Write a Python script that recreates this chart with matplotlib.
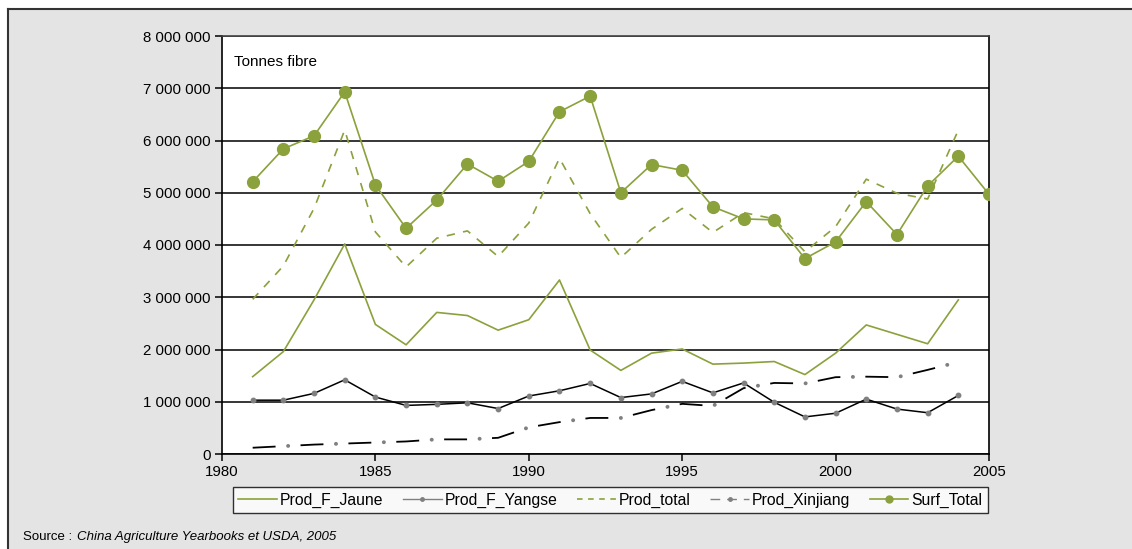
import matplotlib
matplotlib.use("Agg")
import matplotlib.pyplot as plt
from matplotlib.lines import Line2D
from matplotlib.patches import Rectangle
from matplotlib.ticker import FuncFormatter, MultipleLocator

plt.rcParams["font.family"] = ["Liberation Sans", "DejaVu Sans"]
plt.rcParams["lines.scale_dashes"] = False

years = list(range(1981, 2006))
years_prod = list(range(1981, 2005))

prod_f_jaune = [1.48, 1.96, 2.95, 4.02, 2.48, 2.09, 2.71, 2.65, 2.37, 2.57, 3.33, 1.99,
                1.60, 1.93, 2.01, 1.72, 1.74, 1.77, 1.52, 1.93, 2.47, 2.29, 2.11, 2.95]
prod_f_yangse = [1.03, 1.03, 1.16, 1.42, 1.09, 0.93, 0.95, 0.98, 0.87, 1.11, 1.21, 1.35,
                 1.08, 1.15, 1.39, 1.17, 1.36, 0.99, 0.71, 0.78, 1.05, 0.86, 0.79, 1.12]
prod_total = [2.96, 3.60, 4.70, 6.20, 4.25, 3.58, 4.13, 4.27, 3.78, 4.42, 5.66, 4.60,
              3.76, 4.30, 4.70, 4.24, 4.62, 4.50, 3.87, 4.35, 5.26, 4.99, 4.88, 6.20]
prod_xinjiang = [0.12, 0.15, 0.18, 0.20, 0.22, 0.24, 0.28, 0.28, 0.31, 0.51, 0.61, 0.69,
                 0.69, 0.84, 0.96, 0.92, 1.26, 1.36, 1.35, 1.47, 1.48, 1.47, 1.61, 1.76]
surf_total = [5.21, 5.84, 6.09, 6.93, 5.15, 4.32, 4.86, 5.55, 5.22, 5.60, 6.55, 6.85,
              5.00, 5.54, 5.43, 4.73, 4.50, 4.48, 3.74, 4.06, 4.83, 4.20, 5.13, 5.70, 4.97]

labels = ["Prod_F_Jaune", "Prod_F_Yangse", "Prod_total", "Prod_Xinjiang", "Surf_Total"]

green = "#8aa13c"
grey = "#808080"
bg = "#e4e4e4"

M = 1e6
fig = plt.figure(figsize=(11.32, 5.49), dpi=100)
# grey frame, with only the left and top edges drawn
x0, y0 = 8 / 1132, 1 - 9 / 549
fig.patches.append(Rectangle((x0, 0), 1 - x0, y0, transform=fig.transFigure,
                             facecolor=bg, edgecolor="none", zorder=-10))
fig.add_artist(Line2D([x0, x0], [0, y0], transform=fig.transFigure,
                      color="#333333", lw=1.5))
fig.add_artist(Line2D([x0, 1], [y0, y0], transform=fig.transFigure,
                      color="#333333", lw=1.5))

ax = fig.add_axes([222 / 1132, 1 - 454 / 549, (989 - 222) / 1132, (454 - 36) / 549])
ax.set_facecolor("white")

ax.plot(years_prod, [v * M for v in prod_f_jaune], color=green, lw=1.2, zorder=3)
ax.plot(years_prod, [v * M for v in prod_f_yangse], color="black", lw=1.1, zorder=3,
        marker="o", markersize=3.2, markerfacecolor=grey, markeredgecolor=grey)
ax.plot(years_prod, [v * M for v in prod_total], color=green, lw=1.2, zorder=3,
        linestyle=(0, (6, 6)))
xj = [v * M for v in prod_xinjiang]
ax.plot(years_prod, xj, color="black", lw=1.3, zorder=3, linestyle=(0, (16.5, 18)))
ax.plot(years_prod, xj, color=grey, lw=2.8, zorder=3, linestyle=(9, (0.1, 34.4)),
        dash_capstyle="round")
ax.plot(years, [v * M for v in surf_total], color=green, lw=1.2, zorder=4,
        marker="o", markersize=8.5, markerfacecolor=green, markeredgecolor=green)

ax.set_xlim(1980, 2005)
ax.set_ylim(0, 8 * M)
ax.xaxis.set_major_locator(MultipleLocator(5))
ax.yaxis.set_major_locator(MultipleLocator(1 * M))
ax.yaxis.set_major_formatter(FuncFormatter(lambda v, p: f"{v:,.0f}".replace(",", " ")))
ax.grid(axis="y", color="black", lw=1.1, zorder=1)
ax.set_axisbelow(True)
for side in ["left", "bottom", "right"]:
    ax.spines[side].set_color("black")
    ax.spines[side].set_linewidth(1.2)
ax.spines["top"].set_color("#444444")
ax.spines["top"].set_linewidth(1.2)
ax.tick_params(axis="both", direction="out", length=5, width=1.1, color="black",
               labelsize=10.8, pad=3)

ax.text(0.015, 0.955, "Tonnes fibre", transform=ax.transAxes, fontsize=11,
        ha="left", va="top")

handles = [
    Line2D([], [], color=green, lw=1.2),
    Line2D([], [], color=grey, lw=1.0, marker="o", markersize=2.5),
    Line2D([], [], color=green, lw=1.2, linestyle=(0, (4, 4))),
    Line2D([], [], color=grey, lw=1.0, linestyle=(0, (7, 5)), marker="o", markersize=2.5),
    Line2D([], [], color=green, lw=1.2, marker="o", markersize=5),
]
leg = fig.legend(handles, labels, loc="center", ncol=5, fontsize=11.3,
                 bbox_to_anchor=((231 + 990) / 2 / 1132, 1 - 500 / 549),
                 frameon=True, fancybox=False, handlelength=2.45, handletextpad=0.2,
                 columnspacing=1.25, borderpad=0.35)
leg.get_frame().set_edgecolor("black")
leg.get_frame().set_linewidth(1.0)

fig.text(23 / 1132, 1 - 537 / 549, "Source : ", fontsize=9.5, ha="left", va="center")
fig.text(77 / 1132, 1 - 537 / 549, "China Agriculture Yearbooks et USDA, 2005",
         fontsize=9.5, style="italic", ha="left", va="center")

fig.savefig("out.png", dpi=100)
